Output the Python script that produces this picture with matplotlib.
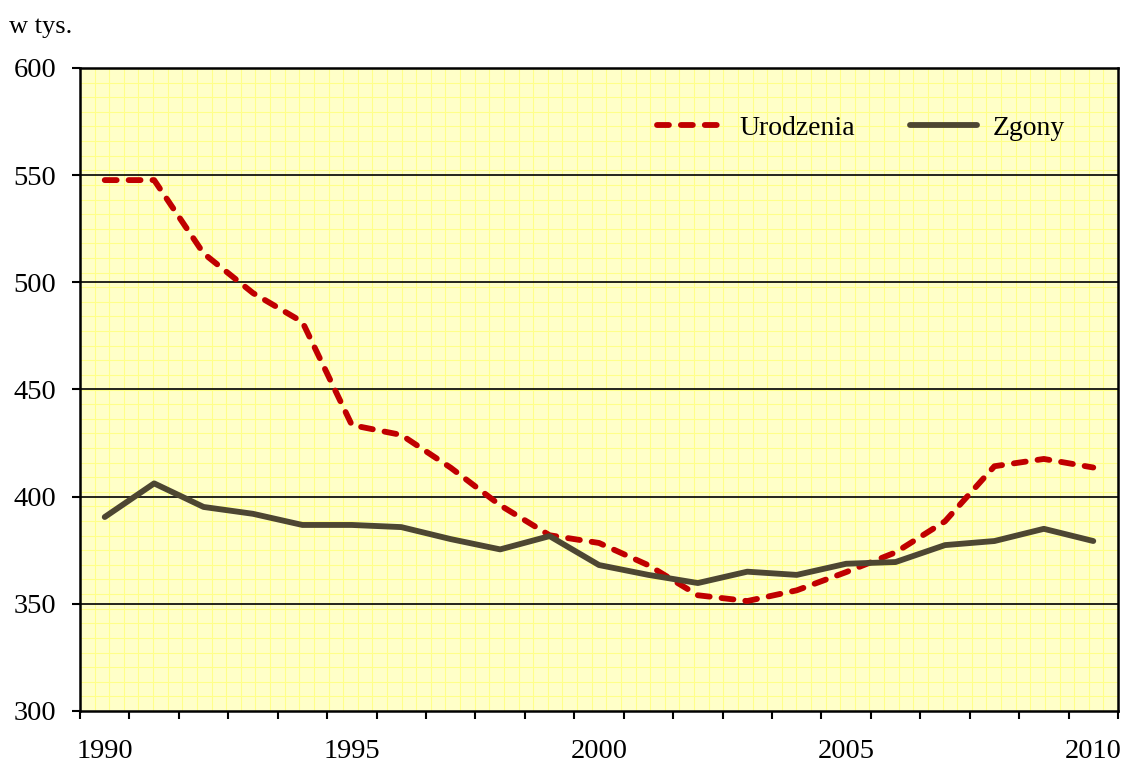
import numpy as np
import matplotlib
matplotlib.use("Agg")
import matplotlib.pyplot as plt

years = list(range(1990, 2011))
urodzenia = [547.7, 547.7, 513.5, 495.0, 481.5, 433.4, 428.8, 413.5, 396.0, 382.0,
             378.4, 368.0, 354.0, 351.3, 356.3, 364.8, 374.0, 388.5, 414.2, 417.6, 413.6]
zgony = [390.5, 406.2, 395.2, 392.0, 386.8, 386.8, 385.8, 380.2, 375.4, 381.6,
         368.1, 363.5, 359.7, 365.0, 363.5, 368.7, 369.5, 377.4, 379.3, 385.0, 379.3]
year_labels = ['1990', '1995', '2000', '2005', '2010']

plt.rcParams['font.family'] = ['Liberation Serif', 'DejaVu Serif']
plt.rcParams['lines.scale_dashes'] = False

fig = plt.figure(figsize=(11.29, 7.65), dpi=100)
ax = fig.add_axes([80/1129, 1 - 711/765, 1038/1129, 643/765])
ax.set_facecolor('#FFFFC8')

x = np.arange(len(years))
ax.set_xlim(-0.5, len(years) - 0.5)
ax.set_ylim(300, 600)

# fine yellow grid (background pattern)
for f in np.linspace(0, 1, 72)[1:-1]:
    ax.plot([f, f], [0, 1], transform=ax.transAxes, color='#FFFF8A', lw=0.8, zorder=0)
for f in np.linspace(0, 1, 45)[1:-1]:
    ax.plot([0, 1], [f, f], transform=ax.transAxes, color='#FFFF8A', lw=0.8, zorder=0)

# major horizontal lines
for v in [350, 400, 450, 500, 550]:
    ax.axhline(v, color='black', lw=1.2, zorder=1)

ax.plot(x, urodzenia, color='#C00000', lw=4.2, dashes=(8.6, 8.6),
        solid_capstyle='round', dash_capstyle='round', dash_joinstyle='round',
        label='Urodzenia', zorder=3)
ax.plot(x, zgony, color='#4D4632', lw=4.2, solid_capstyle='round',
        solid_joinstyle='round', label='Zgony', zorder=3)

for s in ax.spines.values():
    s.set_linewidth(1.8)
    s.set_color('black')

ax.set_yticks([300, 350, 400, 450, 500, 550, 600])
ax.tick_params(axis='y', direction='out', length=6, width=1.5, pad=11, labelsize=20.5)

ax.set_xticks(np.arange(-0.5, len(years), 1.0))
ax.set_xticklabels([])
ax.tick_params(axis='x', which='major', direction='out', length=6, width=1.5)
ax.set_xticks([0, 5, 10, 15, 20], minor=True)
ax.set_xticklabels(year_labels, minor=True)
ax.tick_params(axis='x', which='minor', length=0, pad=20, labelsize=20.5)

fig.text(9/1129, 1 - 27/765, 'w tys.', fontsize=19, va='center', ha='left')

ax.legend(loc='center left', bbox_to_anchor=(0.556, 0.907), ncol=2, frameon=False,
          fontsize=20, handlelength=2.4, handletextpad=0.55, columnspacing=2.0,
          borderaxespad=0, borderpad=0)

fig.savefig('out.png', dpi=100)
